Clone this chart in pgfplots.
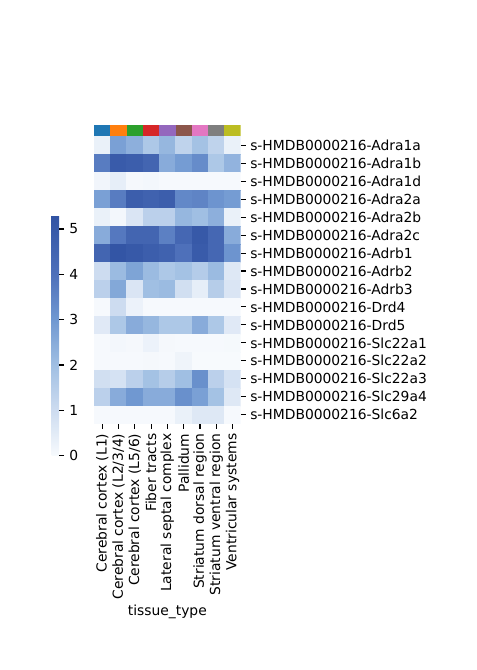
\documentclass[border=0pt]{standalone}
\usepackage{pgfplots}
\pgfplotsset{compat=1.18}
\usetikzlibrary{calc}
\usepackage{fontspec}
\setmainfont{DejaVu Sans}
\definecolor{c1}{HTML}{1F77B4}
\definecolor{c2}{HTML}{FF7F0E}
\definecolor{c3}{HTML}{2CA02C}
\definecolor{c4}{HTML}{D62728}
\definecolor{c5}{HTML}{9467BD}
\definecolor{c6}{HTML}{8C564B}
\definecolor{c7}{HTML}{E377C2}
\definecolor{c8}{HTML}{7F7F7F}
\definecolor{c9}{HTML}{BCBD22}
\pgfplotsset{colormap={hm}{rgb255(0)=(247,250,253) rgb255(1)=(205,220,240) rgb255(2)=(160,191,227) rgb255(3)=(112,152,209) rgb255(4)=(78,112,186) rgb255(5.31)=(48,82,163)}}
\begin{document}
\fontsize{13.9}{16.7}\selectfont
\begin{tikzpicture}[x=1bp,y=1bp]
\useasboundingbox (0,0) rectangle (477,670);
\begin{axis}[
  at={(94bp,246.3bp)}, anchor=south west,
  scale only axis, width=146.7bp, height=287.4bp,
  xmin=-0.5, xmax=8.5, ymin=-0.5, ymax=15.5, y dir=reverse,
  axis line style={draw=none},
  tick align=outside,
  major tick length=4.86bp,
  every tick/.style={black, line width=1.1bp},
  ytick={0,...,15},
  yticklabels={s-HMDB0000216-Adra1a,s-HMDB0000216-Adra1b,s-HMDB0000216-Adra1d,s-HMDB0000216-Adra2a,s-HMDB0000216-Adra2b,s-HMDB0000216-Adra2c,s-HMDB0000216-Adrb1,s-HMDB0000216-Adrb2,s-HMDB0000216-Adrb3,s-HMDB0000216-Drd4,s-HMDB0000216-Drd5,s-HMDB0000216-Slc22a1,s-HMDB0000216-Slc22a2,s-HMDB0000216-Slc22a3,s-HMDB0000216-Slc29a4,s-HMDB0000216-Slc6a2},
  ytick pos=right, yticklabel pos=right,
  xtick={0,...,8},
  xticklabels={Cerebral cortex (L1),Cerebral cortex (L2/3/4),Cerebral cortex (L5/6),Fiber tracts,Lateral septal complex,Pallidum,Striatum dorsal region,Striatum ventral region,Ventricular systems},
  xtick pos=bottom,
  xticklabel style={rotate=90, anchor=east, inner sep=0pt},
  yticklabel style={inner sep=0pt},
  xticklabel shift=5bp, yticklabel shift=4.5bp,
  xlabel={tissue\_type},
  xlabel style={yshift=-0.5bp},
  colormap name=hm,
  point meta min=0, point meta max=5.31,
  colorbar,
  colorbar style={
    at={($(parent axis.south west)+(-51bp,-32bp)$)}, anchor=south west,
    scale only axis, width=7.7bp, height=240.7bp,
    ytick={0,...,5}, ytick pos=right, yticklabel pos=right,
    axis line style={draw=none},
    tick align=outside, major tick length=4.86bp,
    every tick/.style={black, line width=1.1bp},
    yticklabel style={inner sep=0pt},
    yticklabel shift=5bp,
    /pgf/number format/assume math mode=true,
  },
]
\addplot[matrix plot*, mesh/cols=9, point meta=explicit] table[meta=c] {
x y c
0 0 0.3
1 0 2.8
2 0 2.4
3 0 1.7
4 0 2.2
5 0 1.3
6 0 1.9
7 0 1.3
8 0 0.3
0 1 3.7
1 1 4.9
2 1 4.8
3 1 4.5
4 1 2.5
5 1 2.9
6 1 3.3
7 1 1.7
8 1 2.3
0 2 0.15
1 2 0.4
2 2 0.05
3 2 0.1
4 2 0.02
5 2 0.02
6 2 0.02
7 2 0.02
8 2 0.02
0 3 2.8
1 3 3.7
2 3 4.8
3 3 4.6
4 3 4.8
5 3 3.4
6 3 3.5
7 3 3.1
8 3 2.9
0 4 0.3
1 4 0.1
2 4 0.7
3 4 1.4
4 4 1.4
5 4 2.2
6 4 2.0
7 4 2.4
8 4 0.3
0 5 2.5
1 5 3.8
2 5 4.5
3 5 4.5
4 5 3.6
5 5 4.4
6 5 5.0
7 5 4.4
8 5 2.5
0 6 4.5
1 6 5.2
2 6 5.0
3 6 4.8
4 6 4.6
5 6 4.0
6 6 4.9
7 6 4.4
8 6 3.1
0 7 1.0
1 7 2.1
2 7 2.7
3 7 2.1
4 7 1.7
5 7 1.9
6 7 1.55
7 7 2.1
8 7 0.6
0 8 1.4
1 8 2.6
2 8 0.7
3 8 2.0
4 8 2.1
5 8 0.9
6 8 0.4
7 8 1.5
8 8 0.7
0 9 0.02
1 9 1.0
2 9 0.25
3 9 0.02
4 9 0.02
5 9 0.02
6 9 0.02
7 9 0.02
8 9 0.02
0 10 0.55
1 10 1.7
2 10 2.5
3 10 2.2
4 10 1.7
5 10 1.7
6 10 2.5
7 10 1.7
8 10 0.55
0 11 0.02
1 11 0.1
2 11 0.05
3 11 0.25
4 11 0.05
5 11 0.03
6 11 0.03
7 11 0.03
8 11 0.04
0 12 0.02
1 12 0.02
2 12 0.02
3 12 0.05
4 12 0.02
5 12 0.2
6 12 0.0
7 12 0.0
8 12 0.0
0 13 0.9
1 13 0.8
2 13 1.4
3 13 1.9
4 13 1.5
5 13 2.0
6 13 3.2
7 13 1.4
8 13 0.8
0 14 1.4
1 14 2.5
2 14 3.0
3 14 2.5
4 14 2.5
5 14 3.2
6 14 2.8
7 14 1.9
8 14 0.6
0 15 0.02
1 15 0.02
2 15 0.02
3 15 0.02
4 15 0.02
5 15 0.3
6 15 0.6
7 15 0.6
8 15 0.03
};
\end{axis}
\begin{axis}[
  at={(94bp,533.7bp)}, anchor=south west,
  scale only axis, width=146.7bp, height=11.6bp,
  xmin=-0.5, xmax=8.5, ymin=0, ymax=1,
  hide axis,
]
\addplot[ybar, bar width=1, bar shift=0pt, fill=c1, draw=none] coordinates {(0,1)};
\addplot[ybar, bar width=1, bar shift=0pt, fill=c2, draw=none] coordinates {(1,1)};
\addplot[ybar, bar width=1, bar shift=0pt, fill=c3, draw=none] coordinates {(2,1)};
\addplot[ybar, bar width=1, bar shift=0pt, fill=c4, draw=none] coordinates {(3,1)};
\addplot[ybar, bar width=1, bar shift=0pt, fill=c5, draw=none] coordinates {(4,1)};
\addplot[ybar, bar width=1, bar shift=0pt, fill=c6, draw=none] coordinates {(5,1)};
\addplot[ybar, bar width=1, bar shift=0pt, fill=c7, draw=none] coordinates {(6,1)};
\addplot[ybar, bar width=1, bar shift=0pt, fill=c8, draw=none] coordinates {(7,1)};
\addplot[ybar, bar width=1, bar shift=0pt, fill=c9, draw=none] coordinates {(8,1)};
\end{axis}
\end{tikzpicture}
\end{document}
